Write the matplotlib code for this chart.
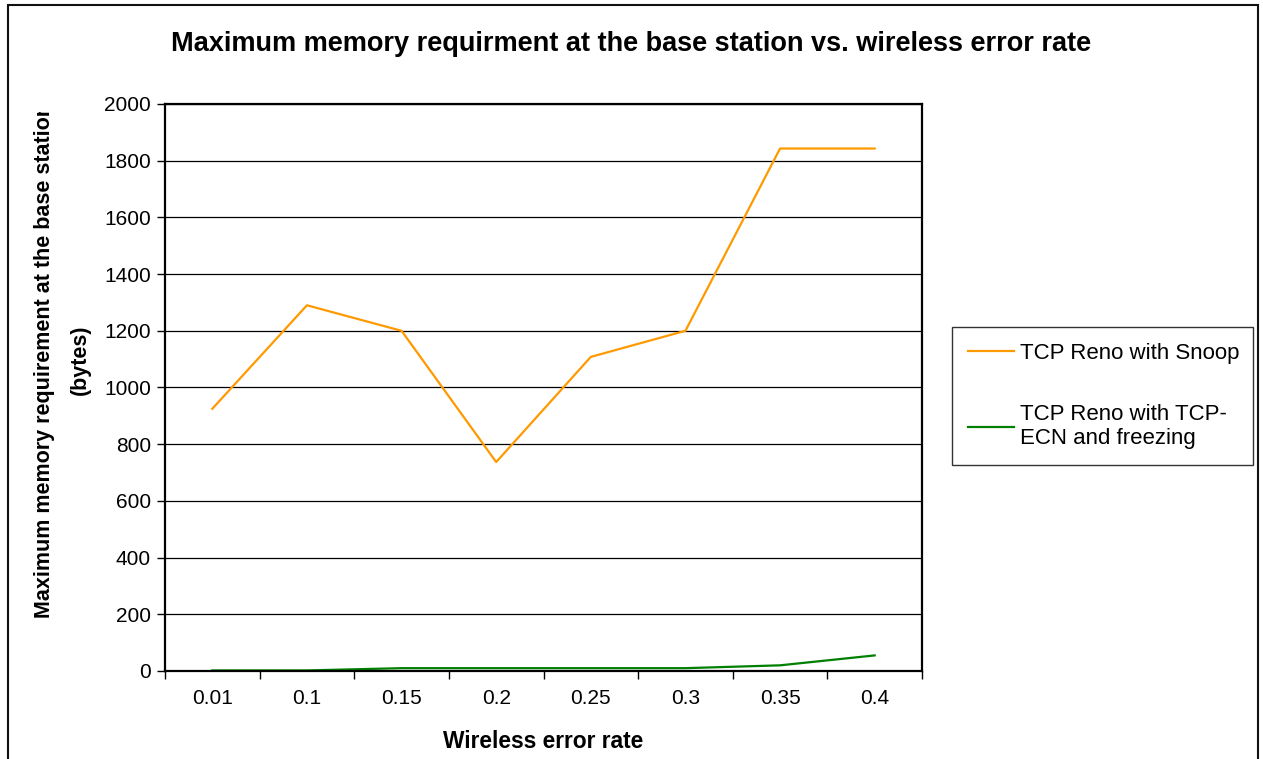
import matplotlib
matplotlib.use("Agg")
import matplotlib.pyplot as plt
from matplotlib.transforms import Bbox
from matplotlib.patches import Rectangle

plt.rcParams['font.family'] = ['Liberation Sans', 'DejaVu Sans']

# data
error_rates = ['0.01', '0.1', '0.15', '0.2', '0.25', '0.3', '0.35', '0.4']
snoop = [925, 1290, 1200, 737, 1108, 1200, 1843, 1843]
ecn_freezing = [2, 2, 10, 10, 10, 10, 20, 55]

W, H = 1263, 759
fig = plt.figure(figsize=(W / 100, H / 100), dpi=100)

# outer chart frame (bottom edge is cut off in the original)
fig.patches.append(Rectangle((8 / W, -0.01), (1258 - 8) / W, 1 - 5 / H + 0.01,
                             transform=fig.transFigure, fill=False,
                             edgecolor='#111111', linewidth=1.5))

ax = fig.add_axes([165 / W, 1 - 671 / H, (922 - 165) / W, (671 - 104) / H])

x = list(range(len(error_rates)))
ax.plot(x, snoop, color='#FF9900', linewidth=1.6, label='TCP Reno with Snoop')
ax.plot(x, ecn_freezing, color='#008000', linewidth=1.6,
        label='TCP Reno with TCP-\nECN and freezing')

ax.set_xlim(-0.5, len(error_rates) - 0.5)
ax.set_ylim(0, 2000)
ax.set_yticks(range(0, 2001, 200))
ax.set_xticks(x)
ax.set_xticklabels(error_rates)
ax.set_xticks([i - 0.5 for i in range(len(error_rates) + 1)], minor=True)
ax.tick_params(axis='x', which='major', length=0, pad=13, labelsize=15)
ax.tick_params(axis='x', which='minor', length=6, width=1, direction='out')
ax.tick_params(axis='y', length=6, width=1, direction='out', pad=4, labelsize=15)
ax.grid(axis='y', color='black', linewidth=0.9)
ax.set_axisbelow(True)
for s in ax.spines.values():
    s.set_linewidth(1.6)
    s.set_color('black')

fig.text(631 / W, 1 - 44 / H,
         'Maximum memory requirment at the base station vs. wireless error rate',
         ha='center', va='center', fontsize=19.5, fontweight='bold')
fig.text(543 / W, 1 - 742 / H, 'Wireless error rate',
         ha='center', va='center', fontsize=16.4, fontweight='bold')

# y label, cut off at the top as in the original
clip = Bbox.from_extents(0, 0, W, H - 112)
t1 = fig.text(45 / W, 1 - 361 / H, 'Maximum memory requirement at the base station',
              rotation=90, ha='center', va='center', fontsize=15.5, fontweight='bold')
t1.set_clip_box(clip)
t1.set_clip_on(True)
fig.text(80 / W, 1 - 360 / H, '(bytes)', rotation=90, ha='center', va='center',
         fontsize=15.5, fontweight='bold')

leg = fig.legend(loc='center', bbox_to_anchor=(952 / W, 1 - 465 / H, 301 / W, 138 / H),
                 mode='expand', fontsize=16, frameon=True, fancybox=False,
                 edgecolor='black', handlelength=2.1, handletextpad=0.27,
                 labelspacing=1.8, borderpad=0.7, borderaxespad=0)
leg.get_frame().set_linewidth(1.0)

fig.savefig('out.png', dpi=100)
